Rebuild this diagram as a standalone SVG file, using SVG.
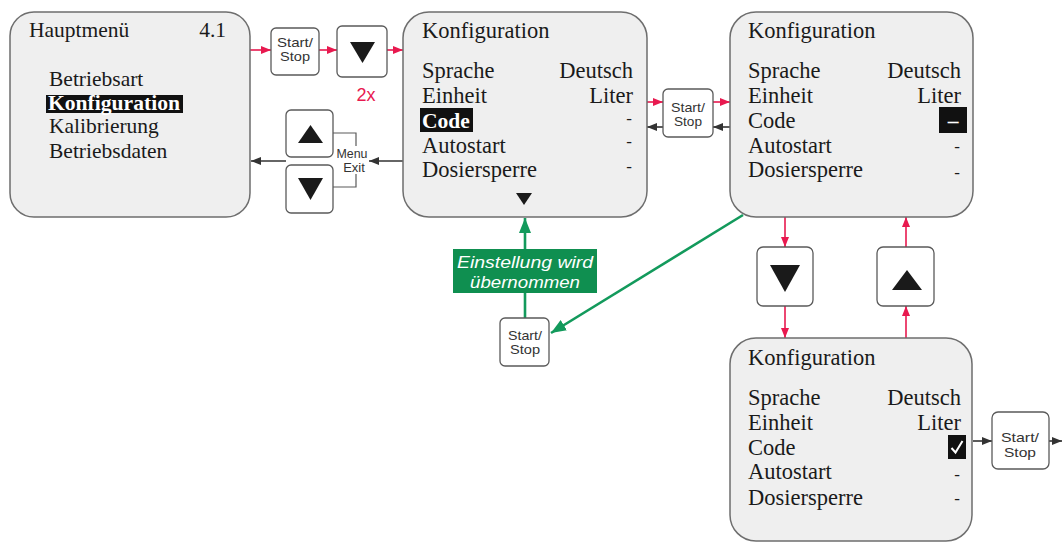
<svg xmlns="http://www.w3.org/2000/svg" width="1062" height="543" viewBox="0 0 1062 543">
<style>
.scr{fill:#efefef;stroke:#6e6e6e;stroke-width:1.5}
.btn{fill:#ffffff;stroke:#5a5a5a;stroke-width:1.3}
.t{font-family:"Liberation Serif","Times New Roman",serif;font-size:21.5px;fill:#1a1a1a}
.k{font-size:22.5px}
.tb{font-family:"Liberation Serif","Times New Roman",serif;font-size:21.5px;font-weight:bold;fill:#ffffff}
.d{font-family:"Liberation Serif","Times New Roman",serif;font-size:17px;fill:#1a1a1a;text-anchor:end}
.e{text-anchor:end}
.bt{font-family:"Liberation Sans",Arial,sans-serif;font-size:13px;fill:#333333;text-anchor:middle}
.tri{fill:#1a1a1a}
.red{stroke:#e8194f;stroke-width:1.6;fill:none;marker-end:url(#ar)}
.blk{stroke:#333333;stroke-width:1.6;fill:none;marker-end:url(#ak)}
.grn{stroke:#139a5c;stroke-width:2.6;fill:none;marker-end:url(#ag)}
.gl{font-family:"Liberation Sans",Arial,sans-serif;font-size:17px;font-style:italic;fill:#ffffff;text-anchor:middle}
</style>
<defs>
<marker id="ar" markerUnits="userSpaceOnUse" markerWidth="10" markerHeight="8" refX="10" refY="4" orient="auto"><path d="M0,0 L10,4 L0,8 z" fill="#e8194f"/></marker>
<marker id="ak" markerUnits="userSpaceOnUse" markerWidth="10" markerHeight="8" refX="10" refY="4" orient="auto"><path d="M0,0 L10,4 L0,8 z" fill="#333333"/></marker>
<marker id="ag" markerUnits="userSpaceOnUse" markerWidth="15" markerHeight="12" refX="15" refY="6" orient="auto"><path d="M0,0 L15,6 L0,12 z" fill="#139a5c"/></marker>
</defs>
<rect width="1062" height="543" fill="#ffffff"/>

<g id="connectors">
<line class="red" x1="250" y1="50" x2="271" y2="50"/>
<line class="red" x1="319" y1="50" x2="337" y2="50"/>
<line class="red" x1="387" y1="50" x2="403" y2="50"/>
<line class="blk" x1="403" y1="161" x2="369" y2="161"/>
<line class="blk" x1="286" y1="161" x2="251" y2="161"/>
<line class="red" x1="647" y1="102" x2="663" y2="102"/>
<line class="red" x1="713" y1="102" x2="730" y2="102"/>
<line class="blk" x1="730" y1="127" x2="713" y2="127"/>
<line class="blk" x1="663" y1="127" x2="647" y2="127"/>
<line class="red" x1="785" y1="217" x2="785" y2="247"/>
<line class="red" x1="785" y1="306" x2="785" y2="338"/>
<line class="red" x1="906" y1="338" x2="906" y2="306"/>
<line class="red" x1="906" y1="247" x2="906" y2="217"/>
<line class="blk" x1="973" y1="441" x2="992" y2="441"/>
<line class="blk" x1="1049" y1="441" x2="1062" y2="441"/>
<line class="grn" x1="525" y1="318" x2="525" y2="218"/>
<line class="grn" x1="743" y1="215" x2="551" y2="333"/>
</g>

<g id="hauptmenu">
<rect class="scr" x="10" y="12" width="240" height="205" rx="24"/>
<text class="t" x="29" y="37" font-size="20">Hauptmenü</text>
<text class="t e" x="226" y="37" font-size="20">4.1</text>
<text class="t" x="49" y="86">Betriebsart</text>
<rect x="46" y="95" width="137" height="18" fill="#111111"/>
<text class="tb" x="48" y="110" textLength="132" lengthAdjust="spacingAndGlyphs">Konfiguration</text>
<text class="t" x="49" y="133">Kalibrierung</text>
<text class="t" x="49" y="158">Betriebsdaten</text>
</g>

<g id="btn-startstop-1">
<rect class="btn" x="271" y="28" width="48" height="47" rx="5"/>
<text class="bt" x="295" y="47" textLength="36" lengthAdjust="spacingAndGlyphs">Start/</text>
<text class="bt" x="295" y="61" textLength="30" lengthAdjust="spacingAndGlyphs">Stop</text>
</g>
<g id="btn-down-1">
<rect class="btn" x="337" y="26" width="50" height="51" rx="5"/>
<polygon class="tri" points="350,42 375,42 362.5,63"/>
<text x="366" y="101" font-family="Liberation Sans, Arial, sans-serif" font-size="18" fill="#e8194f" text-anchor="middle">2x</text>
</g>

<g id="btn-menu-exit">
<rect class="btn" x="286" y="110" width="47" height="47" rx="5"/>
<polygon class="tri" points="298,143 323,143 310.5,125"/>
<rect class="btn" x="286" y="165" width="47" height="48" rx="5"/>
<polygon class="tri" points="298,178 323,178 310.5,200"/>
<path d="M333,133 H356 V187 H333" fill="none" stroke="#5a5a5a" stroke-width="1.2"/>
<rect x="337" y="146" width="30" height="28" fill="#ffffff"/>
<text class="bt" x="352" y="158" font-size="12" textLength="31" lengthAdjust="spacingAndGlyphs">Menu</text>
<text class="bt" x="354" y="172" font-size="12">Exit</text>
</g>

<g id="konfig-1">
<rect class="scr" x="403" y="12" width="244" height="205" rx="26"/>
<text class="t k" x="422" y="38">Konfiguration</text>
<text class="t k" x="422" y="78">Sprache</text>
<text class="t k e" x="633" y="78">Deutsch</text>
<text class="t k" x="422" y="103">Einheit</text>
<text class="t k e" x="633" y="103">Liter</text>
<rect x="420" y="108" width="53" height="24" fill="#111111"/>
<text class="tb k" x="422" y="128">Code</text>
<text class="d" x="632" y="124">-</text>
<text class="t k" x="422" y="153">Autostart</text>
<text class="d" x="632" y="147">-</text>
<text class="t k" x="422" y="177">Dosiersperre</text>
<text class="d" x="632" y="172">-</text>
<polygon class="tri" points="516,193 532,193 524,205"/>
</g>

<g id="btn-startstop-2">
<rect class="btn" x="663" y="89" width="50" height="48" rx="5"/>
<text class="bt" x="688" y="112" textLength="34" lengthAdjust="spacingAndGlyphs">Start/</text>
<text class="bt" x="688" y="126" textLength="28" lengthAdjust="spacingAndGlyphs">Stop</text>
</g>

<g id="konfig-2">
<rect class="scr" x="730" y="12" width="243" height="205" rx="26"/>
<text class="t k" x="748" y="38">Konfiguration</text>
<text class="t k" x="748" y="78">Sprache</text>
<text class="t k e" x="961" y="78">Deutsch</text>
<text class="t k" x="748" y="103">Einheit</text>
<text class="t k e" x="961" y="103">Liter</text>
<text class="t k" x="748" y="128">Code</text>
<rect x="939" y="107" width="28" height="26" fill="#111111"/>
<text class="tb" x="953" y="128" text-anchor="middle" font-size="18">–</text>
<text class="t k" x="748" y="153">Autostart</text>
<text class="d" x="960" y="152">-</text>
<text class="t k" x="748" y="177">Dosiersperre</text>
<text class="d" x="960" y="178">-</text>
</g>

<g id="btn-down-2">
<rect class="btn" x="757" y="247" width="56" height="59" rx="6"/>
<polygon class="tri" points="770,265 800,265 785,292"/>
</g>
<g id="btn-up-2">
<rect class="btn" x="877" y="247" width="57" height="59" rx="6"/>
<polygon class="tri" points="892,290 922,290 907,270"/>
</g>

<g id="konfig-3">
<rect class="scr" x="730" y="338" width="242" height="203" rx="26"/>
<text class="t k" x="748" y="365">Konfiguration</text>
<text class="t k" x="748" y="405">Sprache</text>
<text class="t k e" x="961" y="405">Deutsch</text>
<text class="t k" x="748" y="430">Einheit</text>
<text class="t k e" x="961" y="430">Liter</text>
<text class="t k" x="748" y="455">Code</text>
<rect x="948" y="435" width="18" height="24" fill="#111111"/>
<path d="M951.5,448 L955.5,452.5 L962.5,441" fill="none" stroke="#ffffff" stroke-width="2"/>
<text class="t k" x="748" y="479">Autostart</text>
<text class="d" x="960" y="480">-</text>
<text class="t k" x="748" y="505">Dosiersperre</text>
<text class="d" x="960" y="504">-</text>
</g>

<g id="btn-startstop-3">
<rect class="btn" x="992" y="412" width="57" height="57" rx="6"/>
<text class="bt" x="1020" y="442" font-size="15" textLength="38" lengthAdjust="spacingAndGlyphs">Start/</text>
<text class="bt" x="1020" y="457" font-size="15" textLength="32" lengthAdjust="spacingAndGlyphs">Stop</text>
</g>

<g id="label-uebernommen">
<rect x="453" y="249" width="144" height="44" fill="#0f8f50"/>
<text class="gl" x="525" y="268" textLength="136" lengthAdjust="spacingAndGlyphs">Einstellung wird</text>
<text class="gl" x="525" y="288" textLength="110" lengthAdjust="spacingAndGlyphs">übernommen</text>
</g>

<g id="btn-startstop-green">
<rect class="btn" x="500" y="318" width="49" height="48" rx="5"/>
<text class="bt" x="525" y="340" textLength="34" lengthAdjust="spacingAndGlyphs">Start/</text>
<text class="bt" x="525" y="354" textLength="30" lengthAdjust="spacingAndGlyphs">Stop</text>
</g>
</svg>
